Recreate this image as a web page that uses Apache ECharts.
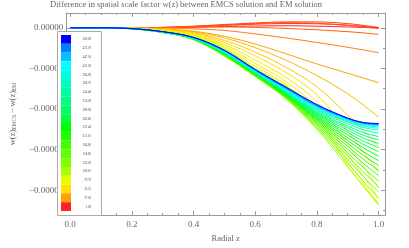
<!DOCTYPE html>
<html>
<head>
<meta charset="utf-8">
<script src="https://cdn.jsdelivr.net/npm/echarts@6/dist/echarts.min.js"></script>
<style>html,body{margin:0;padding:0;background:#fff}#c{width:409px;height:248px}</style>
</head>
<body>
<div id="c"></div>
<script>
// radial coordinate samples
const zGrid = [0, 0.1, 0.2, 0.3, 0.4, 0.5, 0.6, 0.7, 0.8, 0.9, 0.95, 1.0];
// w(z)_EMCS - w(z)_EM, in units of 1e-5, one array per parameter value
const w001 = [0, 0, 0, 0.01, 0.03, 0.06, 0.09, 0.10, 0.08, 0.04, 0.02, 0.00];
const w004 = [0, 0, 0, 0.02, 0.06, 0.12, 0.18, 0.21, 0.20, 0.13, 0.07, 0.00];
const w007 = [0, 0, 0, 0.02, 0.08, 0.16, 0.24, 0.29, 0.29, 0.21, 0.12, 0.02];
const w010 = [0, 0, 0, 0.02, 0.07, 0.14, 0.21, 0.25, 0.22, 0.12, 0.05, -0.04];
const w014 = [0, 0, 0, 0.01, 0.03, 0.04, 0.02, -0.03, -0.10, -0.19, -0.25, -0.32];
const w020 = [0, 0, 0, -0.01, -0.05, -0.13, -0.30, -0.50, -0.72, -0.96, -1.09, -1.23];
const w028 = [0, 0, -0.01, -0.05, -0.17, -0.42, -0.80, -1.28, -1.78, -2.24, -2.47, -2.70];
const w036 = [0, 0, -0.01, -0.06, -0.20, -0.50, -0.98, -1.60, -2.35, -3.25, -3.80, -4.40];
const w044 = [0, 0, -0.01, -0.08, -0.25, -0.62, -1.20, -1.95, -2.90, -4.30, -5.05, -5.84];
const w052 = [0, 0, -0.02, -0.10, -0.29, -0.72, -1.39, -2.20, -3.30, -5.10, -6.10, -7.10];
const w060 = [0, 0, -0.02, -0.12, -0.33, -0.82, -1.58, -2.45, -3.65, -5.75, -6.80, -7.90];
const w068 = [0, 0, -0.03, -0.14, -0.37, -0.90, -1.75, -2.65, -3.95, -6.25, -7.30, -8.40];
const w078 = [0, 0, -0.03, -0.15, -0.40, -0.97, -1.88, -2.80, -4.20, -6.60, -7.65, -8.65];
const w090 = [0, 0, -0.04, -0.17, -0.43, -1.03, -1.98, -2.88, -4.40, -6.80, -7.80, -8.75];
const w110 = [0, 0, -0.05, -0.23, -0.58, -1.39, -2.40, -3.50, -5.00, -6.85, -7.78, -8.70];
const w125 = [0, 0, -0.05, -0.23, -0.58, -1.38, -2.39, -3.48, -4.93, -6.67, -7.55, -8.40];
const w140 = [0, 0, -0.05, -0.23, -0.57, -1.37, -2.37, -3.46, -4.86, -6.49, -7.31, -8.10];
const w155 = [0, 0, -0.05, -0.22, -0.57, -1.36, -2.36, -3.43, -4.80, -6.32, -7.09, -7.82];
const w170 = [0, 0, -0.05, -0.22, -0.56, -1.35, -2.35, -3.41, -4.73, -6.16, -6.88, -7.55];
const w185 = [0, 0, -0.05, -0.22, -0.56, -1.33, -2.33, -3.39, -4.67, -5.99, -6.67, -7.28];
const w200 = [0, 0, -0.05, -0.22, -0.56, -1.32, -2.32, -3.37, -4.60, -5.84, -6.47, -7.03];
const w215 = [0, 0, -0.05, -0.22, -0.55, -1.31, -2.31, -3.34, -4.54, -5.69, -6.28, -6.78];
const w230 = [0, 0, -0.04, -0.22, -0.55, -1.30, -2.29, -3.32, -4.48, -5.55, -6.10, -6.55];
const w245 = [0, 0, -0.04, -0.22, -0.54, -1.29, -2.28, -3.30, -4.42, -5.42, -5.91, -6.32];
const w260 = [0, 0, -0.04, -0.21, -0.54, -1.28, -2.27, -3.28, -4.37, -5.28, -5.74, -6.10];
const w275 = [0, 0, -0.04, -0.21, -0.53, -1.27, -2.25, -3.26, -4.31, -5.16, -5.58, -5.90];
const w290 = [0, 0, -0.04, -0.21, -0.53, -1.26, -2.24, -3.23, -4.26, -5.04, -5.43, -5.70];
const w305 = [0, 0, -0.04, -0.21, -0.53, -1.25, -2.23, -3.21, -4.21, -4.93, -5.29, -5.52];
const w320 = [0, 0, -0.04, -0.21, -0.52, -1.23, -2.21, -3.19, -4.16, -4.84, -5.16, -5.36];
const w340 = [0, 0, -0.04, -0.21, -0.52, -1.22, -2.19, -3.16, -4.10, -4.73, -5.02, -5.18];
const w360 = [0, 0, -0.04, -0.20, -0.51, -1.20, -2.18, -3.13, -4.05, -4.64, -4.91, -5.04];
const w380 = [0, 0, -0.04, -0.20, -0.50, -1.19, -2.16, -3.10, -4.00, -4.59, -4.84, -4.95];
const w400 = [0, 0, -0.04, -0.20, -0.50, -1.17, -2.14, -3.07, -3.96, -4.55, -4.79, -4.88];
const w420 = [0, 0, -0.04, -0.20, -0.49, -1.16, -2.12, -3.04, -3.92, -4.52, -4.75, -4.83];
const w440 = [0, 0, -0.04, -0.20, -0.49, -1.15, -2.10, -3.01, -3.89, -4.49, -4.72, -4.79];
const w460 = [0, 0, -0.04, -0.19, -0.48, -1.13, -2.09, -2.98, -3.85, -4.47, -4.69, -4.76];
const w480 = [0, 0, -0.04, -0.19, -0.48, -1.11, -2.07, -2.95, -3.81, -4.46, -4.68, -4.74];
const w500 = [0, 0, -0.04, -0.19, -0.47, -1.10, -2.05, -2.92, -3.78, -4.45, -4.66, -4.72];

const curveParams = [1, 4, 7, 10, 14, 20, 28, 36, 44, 52, 60, 68, 78, 90,
  110, 125, 140, 155, 170, 185, 200, 215, 230, 245, 260, 275, 290, 305, 320,
  340, 360, 380, 400, 420, 440, 460, 480, 500];
const curveValues = [w001, w004, w007, w010, w014, w020, w028, w036, w044, w052, w060, w068, w078, w090,
  w110, w125, w140, w155, w170, w185, w200, w215, w230, w245, w260, w275, w290, w305, w320,
  w340, w360, w380, w400, w420, w440, w460, w480, w500];

// legend (top to bottom)
const legendLabels = ['500.00', '473.70', '447.50', '421.20', '394.90', '368.70', '342.40', '316.20',
  '289.90', '263.60', '237.40', '211.10', '184.80', '158.60', '132.30', '106.10', '79.79', '53.53', '27.26', '1.00'];
const legendColors = ['#0000ff', '#0080ff', '#00c0ff', '#00ffff', '#00ffe0', '#00ffc0', '#00ffa0', '#00ff80',
  '#00ff60', '#00ff40', '#00ff00', '#20ff00', '#40ff00', '#60ff00', '#80ff00', '#a8ff00', '#e8ff00', '#ffe000', '#ffa000', '#ff2020'];

// ticks
const xMajorTicks = [0, 0.2, 0.4, 0.6, 0.8, 1.0];
const xTickLabels = ['0.0', '0.2', '0.4', '0.6', '0.8', '1.0'];
const xMinorTicks = [0.05, 0.1, 0.15, 0.25, 0.3, 0.35, 0.45, 0.5, 0.55, 0.65, 0.7, 0.75, 0.85, 0.9, 0.95];
const yMajorTicks = [0, -2, -4, -6, -8];
const yTickLabels = ['0.00000', '\u22120.00002', '\u22120.00004', '\u22120.00006', '\u22120.00008'];
const yMinorTicks = [-1, -3, -5, -7, -9];

function hexToRgb(h) { return [parseInt(h.slice(1,3),16), parseInt(h.slice(3,5),16), parseInt(h.slice(5,7),16)]; }
function colorFor(p) {
  const stops = legendLabels.map((l, i) => [parseFloat(l), hexToRgb(legendColors[i])]).reverse();
  if (p <= stops[0][0]) return legendColors[legendColors.length - 1];
  for (let i = 0; i < stops.length - 1; i++) {
    const a = stops[i], b = stops[i + 1];
    if (p <= b[0]) {
      const t = (p - a[0]) / (b[0] - a[0]);
      const c = a[1].map((v, k) => Math.round(v + t * (b[1][k] - v)));
      return 'rgb(' + c.join(',') + ')';
    }
  }
  return legendColors[0];
}
function labelFor(v, ticks, labels) {
  let best = 0;
  ticks.forEach((t, i) => { if (Math.abs(t - v) < Math.abs(ticks[best] - v)) best = i; });
  return labels[best];
}

const FONT = 'Liberation Serif';
const GRAY = '#999';
const TXT = '#666';

function makeAxis(kind, pos, ticks, len, showLine, showLabels, extra) {
  const isX = kind === 'x';
  const ax = {
    type: 'value',
    position: pos,
    min: isX ? -0.013 : -9.23,
    max: isX ? 1.021 : 0.73,
    axisLine: { show: showLine, onZero: false, lineStyle: { color: GRAY, width: 1 } },
    axisTick: { show: true, inside: true, length: len, customValues: ticks, lineStyle: { color: GRAY, width: 1 } },
    axisLabel: { show: false },
    splitLine: { show: false }
  };
  if (showLabels) {
    ax.axisLabel = {
      show: true, customValues: ticks, color: TXT, fontFamily: FONT, fontSize: 9, margin: isX ? 5 : 3,
      formatter: isX ? (v => labelFor(Number(v), xMajorTicks, xTickLabels)) : (v => labelFor(Number(v), yMajorTicks, yTickLabels))
    };
  }
  return Object.assign(ax, extra || {});
}

const series = curveParams.map((p, i) => ({
  type: 'line',
  xAxisIndex: 0, yAxisIndex: 0,
  data: zGrid.map((z, j) => [z, curveValues[i][j]]),
  showSymbol: false,
  smooth: 0.35,
  silent: true,
  lineStyle: { width: 1, color: colorFor(p) }
}));

const legendGraphics = [{
  type: 'rect', shape: { x: 57.5, y: 31.5, width: 44, height: 184 },
  style: { fill: '#fff', stroke: '#aaa', lineWidth: 1 }, z: 100
}];
legendLabels.forEach((lab, i) => {
  const y0 = 35 + i * 8.8;
  legendGraphics.push({ type: 'rect', shape: { x: 61, y: y0, width: 10, height: 8.8 }, style: { fill: legendColors[i] }, z: 101 });
  legendGraphics.push({ type: 'text', x: 91, y: y0 + 4.6, style: { text: lab, fill: '#444', font: '3px ' + FONT, align: 'right', verticalAlign: 'middle' }, z: 101 });
});

const chart = echarts.init(document.getElementById('c'), null, { renderer: 'canvas' });
chart.setOption({
  animation: false,
  backgroundColor: '#fff',
  title: {
    text: 'Difference in spatial scale factor w(z) between EMCS solution and EM solution',
    left: 50, top: 0, padding: 0,
    textStyle: { fontFamily: FONT, fontSize: 8.5, fontWeight: 'normal', color: TXT }
  },
  grid: { left: 48, right: 24, top: 13, bottom: 27 },
  xAxis: [
    makeAxis('x', 'bottom', xMajorTicks, 4, true, true, {
      name: 'Radial z', nameLocation: 'middle', nameGap: 18,
      nameTextStyle: { fontFamily: FONT, fontSize: 8.5, color: TXT }
    }),
    makeAxis('x', 'bottom', xMinorTicks, 2, false, false),
    makeAxis('x', 'top', xMajorTicks, 4, true, false),
    makeAxis('x', 'top', xMinorTicks, 2, false, false)
  ],
  yAxis: [
    makeAxis('y', 'left', yMajorTicks, 4, true, true, {
      name: '{m|w(z)}{s|EMCS}{m|\u2009\u2212\u2009w(z)}{s|EM}', nameLocation: 'middle', nameGap: 32, nameRotate: 90,
      nameTextStyle: {
        color: TXT,
        rich: {
          m: { fontFamily: FONT, fontSize: 8.5, color: TXT, lineHeight: 10 },
          s: { fontFamily: FONT, fontSize: 5.5, color: TXT, lineHeight: 10, padding: [4, 0, 0, 0] }
        }
      }
    }),
    makeAxis('y', 'left', yMinorTicks, 2, false, false),
    makeAxis('y', 'right', yMajorTicks, 4, true, false),
    makeAxis('y', 'right', yMinorTicks, 2, false, false)
  ],
  graphic: legendGraphics,
  series: series
});
</script>
</body>
</html>
